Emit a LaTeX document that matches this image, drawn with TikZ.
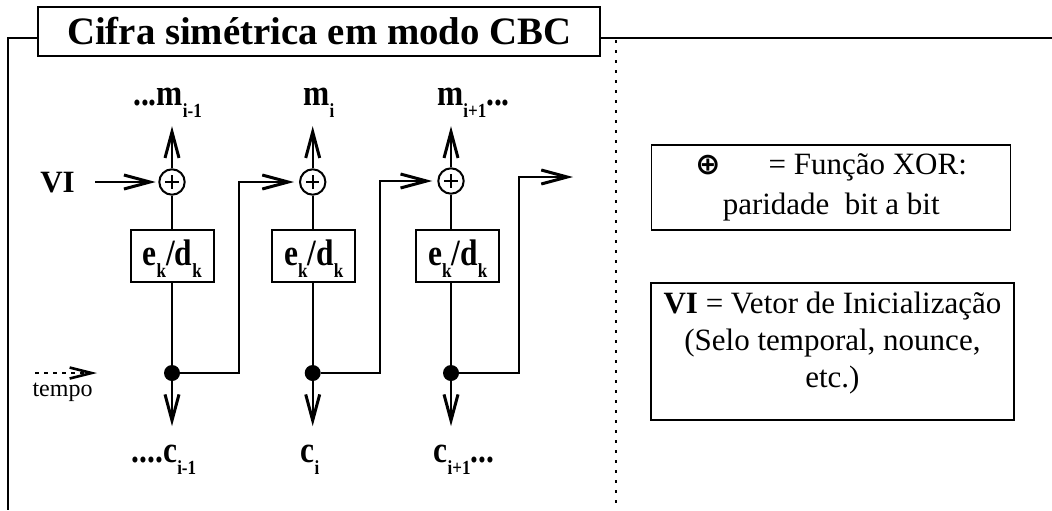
\documentclass[tikz,border=0pt]{standalone}
\usepackage{fontspec}
\setmainfont{Liberation Serif}
\newfontfamily\symfont{DejaVu Sans}
\newfontfamily\lblfont{Liberation Serif}[FakeStretch=0.85]
\usetikzlibrary{arrows.meta}
\newcommand{\idx}[1]{\raisebox{-6.4pt}{\fontsize{10}{10}\selectfont\bfseries #1}}

\begin{document}
\begin{tikzpicture}[x=0.5pt,y=-0.5pt,
  wire/.style={line width=1pt},
  arr/.style={wire, -{Straight Barb[length=13pt,width=7pt,line width=1.5pt]}},
  xorc/.style={circle, draw, line width=1pt, minimum size=12.7pt, inner sep=0pt,
    path picture={\draw[line width=0.8pt] ([xshift=-3.3pt]path picture bounding box.center) -- ([xshift=3.3pt]path picture bounding box.center)
      ([yshift=-3.3pt]path picture bounding box.center) -- ([yshift=3.3pt]path picture bounding box.center);}},
  cipherbox/.style={draw, line width=0.9pt, minimum width=41.5pt, minimum height=26pt, inner sep=0pt},
  lbl/.style={font=\lblfont\fontsize{18.5}{18.5}\selectfont\bfseries, inner sep=1pt, anchor=base},
  joint/.style={circle, fill, minimum size=8pt, inner sep=0pt},
  legend/.style={draw, line width=0.7pt, align=center, inner sep=0pt}]
\useasboundingbox (0,0) rectangle (1052,510);
\node[draw, line width=0.9pt, minimum width=280.9pt, minimum height=24.7pt, inner sep=0pt, font=\fontsize{19.4}{19.4}\selectfont\bfseries] (title) at (319.2,31.4) {Cifra simétrica em modo CBC};
\draw[wire] (38.3,38.3) -| (8,510);
\draw[wire] (600,38.3) -- (1052,38.3);
\draw[line width=0.6pt, dash pattern=on 1.5pt off 3.5pt] (616,40) -- (616,510);

\node[xorc] (x1) at (172,182) {};
\node[xorc] (x2) at (312.7,182) {};
\node[xorc] (x3) at (451,181) {};
\node[cipherbox] (b1) at (172.3,256) {};
\node[cipherbox] (b2) at (313.7,256) {};
\node[cipherbox] (b3) at (457.7,256) {};
\node[lbl] (e1) at (172.3,265) {e\idx{k}/d\idx{k}};
\node[lbl] (e2) at (313.7,265) {e\idx{k}/d\idx{k}};
\node[lbl] (e3) at (457.7,265) {e\idx{k}/d\idx{k}};
\node[joint] (d1) at (172,373) {};
\node[joint] (d2) at (312.7,373) {};
\node[joint] (d3) at (451,373) {};

\node[lbl] (m1) at (167.5,105) {...m\idx{i-1}};
\node[lbl] (m2) at (319,105) {m\idx{i}};
\node[lbl] (m3) at (473.5,105) {m\idx{i+1}...};
\node[lbl] (c1) at (164,462) {....c\idx{i-1}};
\node[lbl] (c2) at (310,462) {c\idx{i}};
\node[lbl] (c3) at (464,462) {c\idx{i+1}...};
\node[font=\fontsize{15.5}{15.5}\selectfont\bfseries, inner sep=1pt, anchor=base] (vi) at (57.5,192) {VI};

\draw[arr, shorten <=9pt, shorten >=1.3pt] (vi.east |- x1) -- (x1);
\draw[arr, shorten >=3pt] (x1) -- (x1 |- m1.south);
\draw[arr, shorten >=3pt] (x2) -- (x2 |- m2.south);
\draw[arr, shorten >=3pt] (x3) -- (x3 |- m3.south);
\draw[wire] (x1) -- (x1 |- b1.north);
\draw[wire] (x2) -- (x2 |- b2.north);
\draw[wire] (x3) -- (x3 |- b3.north);
\draw[wire] (x1 |- b1.south) -- (d1);
\draw[wire] (x2 |- b2.south) -- (d2);
\draw[wire] (x3 |- b3.south) -- (d3);
\draw[arr, shorten >=8pt] (d1) -- (d1 |- c1.north);
\draw[arr, shorten >=8pt] (d2) -- (d2 |- c2.north);
\draw[arr, shorten >=8pt] (d3) -- (d3 |- c3.north);

\coordinate (k1) at (239,182);
\coordinate (k2) at (380,181);
\coordinate (k3) at (519.3,177);
\coordinate (out) at (573,177);
\draw[arr, shorten >=2.5pt] (d1) -| (k1) -- (x2);
\draw[arr, shorten >=2.5pt] (d2) -| (k2) -- (x3);
\draw[arr] (d3) -| (k3) -- (out);

\coordinate (t0) at (35,373);
\coordinate (t1) at (97,373);
\draw[line width=0.8pt, dash pattern=on 2pt off 2.5pt, -{Straight Barb[length=11pt,width=5.5pt,line width=1.3pt]}] (t0) -- (t1);
\node[font=\fontsize{12}{12}\selectfont, anchor=base] (tempo) at (62.5,396.5) {tempo};

\node[legend, minimum width=179.5pt, minimum height=42.5pt, font=\rmfamily\fontsize{15.5}{20}\selectfont] (key1) at (831.2,187.5)
  {{\symfont\bfseries\fontsize{15}{15}\selectfont ⊕}\hspace{24pt}= Função XOR:\\paridade\ \ bit a bit};
\node[legend, minimum width=181.5pt, minimum height=68.5pt] (key2) at (832.4,351.5) {};
\node[align=center, inner sep=0pt, font=\rmfamily\fontsize{15.5}{18.5}\selectfont] (key2txt) at ([yshift=4.25pt]key2.center)
  {\textbf{VI} = Vetor de Inicialização\\(Selo temporal, nounce,\\etc.)};
\end{tikzpicture}
\end{document}
